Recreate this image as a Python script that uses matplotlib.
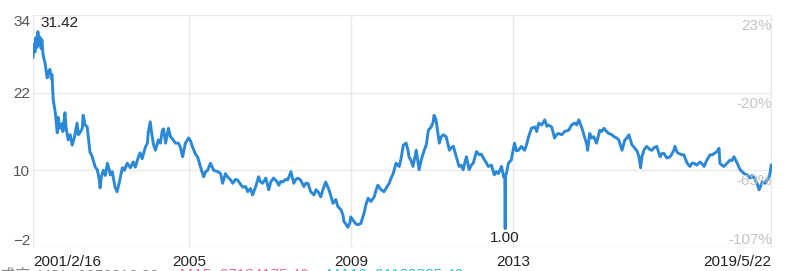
import matplotlib
matplotlib.use("Agg")
import matplotlib.pyplot as plt

plt.rcParams['font.family'] = ['Liberation Sans', 'Noto Sans CJK SC', 'DejaVu Sans']

# price path (decimal year, price)
years = [
    2001.13, 2001.15, 2001.18, 2001.20, 2001.23, 2001.25, 2001.28, 2001.30, 2001.33, 2001.35,
    2001.38, 2001.43, 2001.48, 2001.50, 2001.55, 2001.58, 2001.60, 2001.63, 2001.68, 2001.73,
    2001.75, 2001.80, 2001.85, 2001.87, 2001.92, 2001.95, 2002.00, 2002.05, 2002.10, 2002.15,
    2002.22, 2002.25, 2002.30, 2002.35, 2002.37, 2002.42, 2002.47, 2002.54, 2002.59, 2002.67,
    2002.72, 2002.77, 2002.79, 2002.82, 2002.87, 2002.92, 2002.97, 2003.02, 2003.04, 2003.09,
    2003.16, 2003.21, 2003.26, 2003.34, 2003.39, 2003.46, 2003.54, 2003.61, 2003.66, 2003.74,
    2003.78, 2003.83, 2003.91, 2003.96, 2003.98, 2004.03, 2004.06, 2004.11, 2004.16, 2004.23,
    2004.28, 2004.33, 2004.36, 2004.41, 2004.48, 2004.53, 2004.60, 2004.65, 2004.73, 2004.78,
    2004.83, 2004.90, 2004.98, 2005.03, 2005.07, 2005.15, 2005.20, 2005.27, 2005.35, 2005.40,
    2005.45, 2005.52, 2005.60, 2005.70, 2005.77, 2005.82, 2005.89, 2005.94, 2006.02, 2006.07,
    2006.14, 2006.19, 2006.27, 2006.32, 2006.39, 2006.44, 2006.51, 2006.56, 2006.64, 2006.71,
    2006.76, 2006.81, 2006.89, 2006.96, 2007.01, 2007.08, 2007.16, 2007.21, 2007.26, 2007.31,
    2007.38, 2007.43, 2007.51, 2007.58, 2007.63, 2007.68, 2007.75, 2007.83, 2007.88, 2007.93,
    2008.00, 2008.08, 2008.13, 2008.18, 2008.25, 2008.30, 2008.37, 2008.45, 2008.50, 2008.55,
    2008.62, 2008.67, 2008.75, 2008.80, 2008.82, 2008.87, 2008.92, 2008.97, 2008.99, 2009.07,
    2009.12, 2009.17, 2009.24, 2009.32, 2009.37, 2009.42, 2009.49, 2009.57, 2009.61, 2009.66,
    2009.74, 2009.81, 2009.89, 2009.94, 2009.99, 2010.04, 2010.11, 2010.19, 2010.24, 2010.29,
    2010.36, 2010.41, 2010.43, 2010.48, 2010.53, 2010.61, 2010.68, 2010.73, 2010.78, 2010.86,
    2010.91, 2010.98, 2011.03, 2011.05, 2011.10, 2011.15, 2011.18, 2011.23, 2011.28, 2011.35,
    2011.43, 2011.48, 2011.53, 2011.60, 2011.67, 2011.72, 2011.77, 2011.85, 2011.92, 2011.97,
    2012.02, 2012.10, 2012.17, 2012.22, 2012.27, 2012.34, 2012.39, 2012.47, 2012.54, 2012.59,
    2012.64, 2012.72, 2012.77, 2012.80, 2012.81, 2012.82, 2012.84, 2012.89, 2012.96, 2013.04,
    2013.09, 2013.14, 2013.21, 2013.29, 2013.34, 2013.39, 2013.46, 2013.54, 2013.59, 2013.64,
    2013.71, 2013.79, 2013.84, 2013.88, 2013.96, 2014.03, 2014.08, 2014.13, 2014.21, 2014.28,
    2014.38, 2014.45, 2014.53, 2014.58, 2014.63, 2014.70, 2014.78, 2014.83, 2014.85, 2014.90,
    2014.95, 2015.00, 2015.07, 2015.15, 2015.20, 2015.25, 2015.32, 2015.37, 2015.45, 2015.50,
    2015.57, 2015.62, 2015.70, 2015.75, 2015.77, 2015.82, 2015.87, 2015.94, 2016.02, 2016.07,
    2016.12, 2016.16, 2016.19, 2016.24, 2016.31, 2016.39, 2016.44, 2016.49, 2016.56, 2016.64,
    2016.69, 2016.74, 2016.81, 2016.89, 2016.93, 2016.98, 2017.01, 2017.06, 2017.11, 2017.18,
    2017.23, 2017.31, 2017.38, 2017.43, 2017.48, 2017.55, 2017.63, 2017.68, 2017.73, 2017.80,
    2017.88, 2017.93, 2017.98, 2018.05, 2018.10, 2018.12, 2018.17, 2018.22, 2018.30, 2018.37,
    2018.42, 2018.47, 2018.55, 2018.62, 2018.67, 2018.72, 2018.79, 2018.87, 2018.92, 2018.97,
    2019.04, 2019.09, 2019.17, 2019.24, 2019.29, 2019.33, 2019.36, 2019.39,
]
prices = [
    27.5, 29.5, 28.3, 30.5, 29.0, 31.42, 29.5, 30.6, 28.8, 30.2,
    27.8, 26.5, 24.3, 25.0, 25.6, 24.2, 24.8, 20.9, 19.0, 15.8,
    18.2, 16.5, 17.2, 16.0, 18.9, 16.5, 14.7, 15.5, 13.9, 15.0,
    17.3, 15.5, 15.9, 16.5, 18.5, 17.0, 16.7, 12.8, 12.2, 10.5,
    10.1, 8.5, 7.3, 9.0, 10.0, 9.2, 11.1, 10.0, 9.3, 9.8,
    7.4, 6.7, 8.0, 10.4, 10.0, 11.1, 10.4, 11.3, 10.5, 12.1,
    12.7, 11.8, 13.6, 14.2, 15.8, 17.5, 16.0, 14.0, 13.1, 14.7,
    14.2, 16.2, 16.4, 14.2, 16.5, 15.2, 14.7, 14.2, 14.2, 13.5,
    12.1, 14.2, 15.0, 14.5, 13.7, 12.5, 12.1, 10.6, 9.0, 9.8,
    10.0, 11.1, 10.0, 9.8, 9.5, 8.0, 9.5, 9.0, 8.5, 8.0,
    8.6, 8.5, 7.8, 7.4, 7.5, 6.7, 7.2, 6.2, 7.5, 9.0,
    8.2, 8.0, 8.8, 7.0, 8.2, 8.8, 8.3, 7.7, 8.3, 8.2,
    8.6, 8.5, 9.8, 8.0, 8.6, 8.8, 8.5, 7.5, 8.0, 8.0,
    6.7, 6.2, 7.0, 6.7, 5.9, 7.0, 8.2, 7.0, 6.0, 4.9,
    5.5, 4.4, 3.9, 3.0, 2.1, 1.7, 1.2, 1.9, 2.8, 2.1,
    1.7, 1.6, 1.8, 3.4, 4.8, 5.7, 5.2, 5.9, 6.8, 7.7,
    7.0, 6.7, 7.5, 8.0, 8.8, 9.5, 11.1, 10.6, 12.0, 13.9,
    14.2, 13.0, 12.1, 11.5, 10.6, 13.1, 10.1, 11.5, 12.6, 14.0,
    16.2, 16.7, 17.5, 18.5, 17.8, 15.5, 14.2, 15.2, 15.5, 15.2,
    13.1, 13.5, 13.7, 12.1, 10.6, 10.8, 10.1, 12.1, 10.1, 10.8,
    11.1, 12.9, 12.4, 12.5, 11.9, 11.2, 10.6, 10.8, 9.3, 9.8,
    9.5, 10.6, 9.0, 9.2, 1.0, 9.3, 9.5, 11.1, 11.6, 14.2,
    13.0, 13.1, 13.7, 13.1, 14.0, 15.2, 16.5, 16.7, 16.0, 17.3,
    17.0, 17.8, 16.8, 17.0, 16.7, 15.0, 15.5, 15.7, 15.5, 16.0,
    16.2, 17.0, 17.3, 17.0, 17.8, 16.7, 15.0, 14.0, 13.1, 15.7,
    15.0, 15.2, 14.2, 16.2, 16.0, 16.5, 16.0, 15.7, 15.5, 15.2,
    15.0, 14.7, 13.1, 14.2, 14.7, 15.0, 15.5, 14.0, 13.4, 13.0,
    12.1, 10.4, 12.0, 13.1, 13.7, 13.2, 13.1, 13.5, 13.7, 12.1,
    12.6, 12.6, 11.9, 12.1, 12.5, 13.1, 13.7, 12.8, 12.6, 12.4,
    12.4, 11.1, 10.6, 11.1, 11.1, 10.8, 11.3, 11.0, 10.6, 11.6,
    12.4, 12.4, 12.6, 12.9, 13.4, 11.1, 10.8, 10.6, 11.1, 11.6,
    11.5, 12.1, 11.1, 10.1, 9.8, 9.5, 9.3, 8.8, 9.2, 8.8,
    8.0, 7.0, 8.2, 8.0, 8.5, 8.8, 9.5, 10.8,
]

y_ticks = [34, 22, 10, -2]
pct_labels = ['23%', '-20%', '-63%', '-107%']
x_ticks = [2001.13, 2005, 2009, 2013, 2019.39]
x_labels = ['2001/2/16', '2005', '2009', '2013', '2019/5/22']

fig = plt.figure(figsize=(8, 2.71), dpi=100)
ax = fig.add_axes([33 / 800, 23 / 271, 739 / 800, 233 / 271])

ax.plot(years, prices, color='#2b88d8', lw=2.1, solid_joinstyle='round')

ax.set_xlim(2001.13, 2019.41)
ax.set_ylim(-2, 34)
for s in ax.spines.values():
    s.set_visible(False)

ax.set_yticks(y_ticks)
ax.set_xticks(x_ticks)
ax.set_xticklabels(x_labels)
ax.grid(True, color='#e9e9e9', lw=1)
ax.tick_params(length=0, labelsize=11)
ax.tick_params(axis='x', pad=5, labelcolor='#222222')
ax.tick_params(axis='y', pad=2, labelcolor='#555555')

xl = ax.get_xticklabels()
xl[0].set_ha('left')
xl[-1].set_ha('right')
yl = ax.get_yticklabels()
yl[0].set_va('top')
yl[-1].set_va('bottom')

# percent scale on the right, light grey
for val, lab in zip(y_ticks, pct_labels):
    off = {34: -1.7, 22: -1.7, 10: -1.6, -2: 1.2}[val]
    ax.text(1.0, val + off, lab, transform=ax.get_yaxis_transform(),
            ha='right', va='center', fontsize=11, color='#c4c4c4')

# max / min annotations
i_max = prices.index(max(prices))
i_min = prices.index(min(prices))
ax.annotate(f'{prices[i_max]:.2f}', (years[i_max], prices[i_max]),
            xytext=(2, 6), textcoords='offset points', ha='left', va='center',
            fontsize=11, color='#222222')
ax.annotate(f'{prices[i_min]:.2f}', (years[i_min], prices[i_min]),
            xytext=(0, -7), textcoords='offset points', ha='center', va='center',
            fontsize=11, color='#222222')

# volume line, cut off at the bottom edge
fig.text(0.0, 3 / 271, '成交  VOL: 9959316.00', ha='left', va='top', fontsize=11, color='#888888')
fig.text(180 / 800, 3 / 271, 'MA5: 87184175.40', ha='left', va='top', fontsize=11, color='#f06b9a')
fig.text(327 / 800, 3 / 271, 'MA10: 91189385.40', ha='left', va='top', fontsize=11, color='#2bc4d8')

fig.savefig('out.png', dpi=100)
